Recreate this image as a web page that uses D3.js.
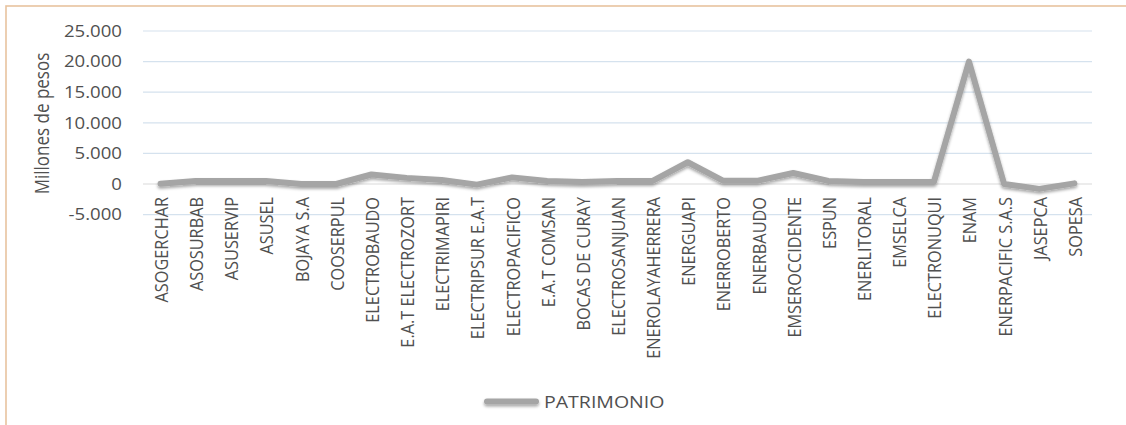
<!DOCTYPE html>
<html>
<head>
<meta charset="utf-8">
<script src="https://cdn.jsdelivr.net/npm/d3@7/dist/d3.min.js"></script>
<style>
  html, body { margin: 0; padding: 0; background: #ffffff; }
  svg { display: block; }
  text { font-family: "Open Sans", "Noto Sans", sans-serif; fill: #505050; }
</style>
</head>
<body>
<svg id="chart" width="1126" height="425"></svg>
<script>
const categories = ["ASOGERCHAR","ASOSURBAB","ASUSERVIP","ASUSEL","BOJAYA S.A","COOSERPUL","ELECTROBAUDO","E.A.T ELECTROZORT","ELECTRIMAPIRI","ELECTRIPSUR E.A.T","ELECTROPACIFICO","E.A.T COMSAN","BOCAS DE CURAY","ELECTROSANJUAN","ENEROLAYAHERRERA","ENERGUAPI","ENERROBERTO","ENERBAUDO","EMSEROCCIDENTE","ESPUN","ENERLITORAL","EMSELCA","ELECTRONUQUI","ENAM","ENERPACIFIC S.A.S","JASEPCA","SOPESA"];
const patrimonio = [50, 500, 500, 500, 0, 0, 1550, 1000, 650, -100, 1080, 500, 320, 500, 500, 3550, 550, 550, 1800, 500, 320, 320, 320, 20000, 0, -800, 100];
const yTicks = [-5000, 0, 5000, 10000, 15000, 20000, 25000];
const yTickLabels = ["-5.000", "0", "5.000", "10.000", "15.000", "20.000", "25.000"];
const seriesName = "PATRIMONIO";
const yTitle = "Millones de pesos";

const svg = d3.select("#chart");
const sx = 1.2; // horizontal stretch of text as in the reference

// frame
svg.append("rect").attr("x", 6).attr("y", 6).attr("width", 1300).attr("height", 600)
  .attr("fill", "none").attr("stroke", "#e8c39f").attr("stroke-width", 1.6);

const x = d3.scaleBand().domain(categories).range([143, 1092]);
const y = d3.scaleLinear().domain([-5000, 25000]).range([214.6, 31]);

// gridlines
svg.append("g").selectAll("line").data(yTicks).join("line")
  .attr("x1", 143).attr("x2", 1092)
  .attr("y1", d => y(d)).attr("y2", d => y(d))
  .attr("stroke", d => d === 0 ? "#d9d9d9" : "#d5e2ee")
  .attr("stroke-width", 1.2);

// y tick labels
svg.append("g").selectAll("text").data(yTicks).join("text")
  .attr("transform", d => `translate(122,${y(d)}) scale(${sx},1)`)
  .attr("text-anchor", "end").attr("dominant-baseline", "central")
  .attr("font-size", 15.5)
  .text((d, i) => yTickLabels[i]);

// y title
svg.append("text")
  .attr("transform", `translate(40.5,123.5) scale(${sx},1) rotate(-90)`)
  .attr("text-anchor", "middle").attr("dominant-baseline", "central")
  .attr("font-size", 17)
  .text(yTitle);

// x labels
svg.append("g").selectAll("text").data(categories).join("text")
  .attr("transform", d => `translate(${x(d) + x.bandwidth() / 2},197) scale(1.15,1) rotate(-90)`)
  .attr("text-anchor", "end").attr("dominant-baseline", "central")
  .attr("font-size", 16.3)
  .text(d => d);

// shadow filter
const defs = svg.append("defs");
const f = defs.append("filter").attr("id", "shadow").attr("filterUnits", "userSpaceOnUse")
  .attr("x", 0).attr("y", 0).attr("width", 1126).attr("height", 425);
f.append("feDropShadow").attr("dx", 0).attr("dy", 2).attr("stdDeviation", 1.5)
  .attr("flood-color", "#000").attr("flood-opacity", 0.35);

const line = d3.line()
  .x((d, i) => x(categories[i]) + x.bandwidth() / 2)
  .y(d => y(d));

svg.append("path").datum(patrimonio)
  .attr("d", line)
  .attr("fill", "none").attr("stroke", "#a5a5a5").attr("stroke-width", 6)
  .attr("stroke-linejoin", "round").attr("stroke-linecap", "round")
  .attr("filter", "url(#shadow)");

// legend
const lg = svg.append("g");
lg.append("line").attr("x1", 487).attr("x2", 536).attr("y1", 401.5).attr("y2", 401.5)
  .attr("stroke", "#a5a5a5").attr("stroke-width", 6).attr("stroke-linecap", "round")
  .attr("filter", "url(#shadow)");
lg.append("text")
  .attr("transform", `translate(544,401.5) scale(1.15,1)`)
  .attr("dominant-baseline", "central")
  .attr("font-size", 17)
  .text(seriesName);
</script>
</body>
</html>
